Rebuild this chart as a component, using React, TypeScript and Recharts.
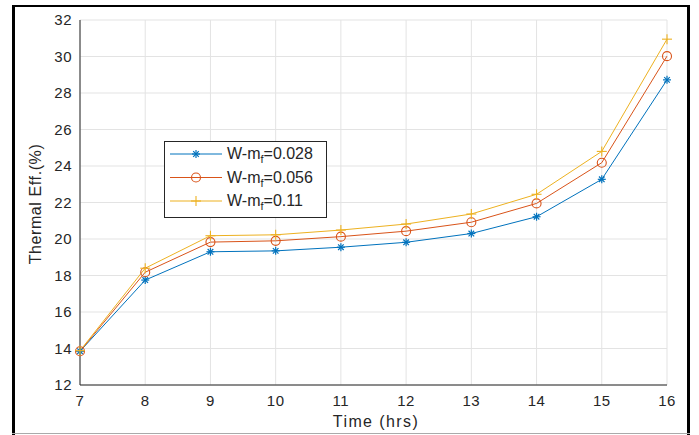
import React from 'react';
import {
  LineChart,
  Line,
  XAxis,
  YAxis,
  CartesianGrid,
  Customized,
} from 'recharts';

const hours = [7, 8, 9, 10, 11, 12, 13, 14, 15, 16];
const wmf028 = [13.85, 17.75, 19.3, 19.35, 19.55, 19.82, 20.3, 21.22, 23.27, 28.72];
const wmf056 = [13.85, 18.18, 19.83, 19.9, 20.13, 20.43, 20.92, 21.95, 24.18, 30.02];
const wmf11 = [13.88, 18.4, 20.18, 20.23, 20.49, 20.82, 21.37, 22.45, 24.8, 30.95];
const xTicks = [7, 8, 9, 10, 11, 12, 13, 14, 15, 16];
const yTicks = [12, 14, 16, 18, 20, 22, 24, 26, 28, 30, 32];
const seriesNames = ['0.028', '0.056', '0.11'];

const BLUE = '#0072BD';
const ORANGE = '#D95319';
const YELLOW = '#EDB120';
const AXIS = '#262626';
const FONT = '"Liberation Sans", Arial, sans-serif';

const data = hours.map((h, i) => ({
  hour: h,
  a: wmf028[i],
  b: wmf056[i],
  c: wmf11[i],
}));

const Star = ({ cx, cy, color }: any) => {
  if (cx == null || cy == null) return null;
  const r = 4;
  const d = r * 0.7;
  return (
    <g stroke={color} strokeWidth={1.2}>
      <line x1={cx - r} y1={cy} x2={cx + r} y2={cy} />
      <line x1={cx} y1={cy - r} x2={cx} y2={cy + r} />
      <line x1={cx - d} y1={cy - d} x2={cx + d} y2={cy + d} />
      <line x1={cx - d} y1={cy + d} x2={cx + d} y2={cy - d} />
    </g>
  );
};

const Circle = ({ cx, cy, color }: any) => {
  if (cx == null || cy == null) return null;
  return <circle cx={cx} cy={cy} r={4.5} fill="none" stroke={color} strokeWidth={1.1} />;
};

const Plus = ({ cx, cy, color }: any) => {
  if (cx == null || cy == null) return null;
  const r = 5;
  return (
    <g stroke={color} strokeWidth={1.1}>
      <line x1={cx - r} y1={cy} x2={cx + r} y2={cy} />
      <line x1={cx} y1={cy - r} x2={cx} y2={cy + r} />
    </g>
  );
};

const markers = [
  { color: BLUE, Mark: Star },
  { color: ORANGE, Mark: Circle },
  { color: YELLOW, Mark: Plus },
];

// legend box drawn on top of the lines, like the matlab one
const LegendBox = () => (
  <g transform="translate(164,141)">
    <rect x={0.5} y={0.5} width={162} height={76} fill="#fff" stroke={AXIS} strokeWidth={1} />
    {markers.map(({ color, Mark }, i) => {
      const y = 13 + i * 23.5;
      return (
        <g key={i}>
          <line x1={6} y1={y} x2={58} y2={y} stroke={color} strokeWidth={1} />
          <Mark cx={32} cy={y} color={color} />
          <text x={63} y={y + 5} fontSize={16} fontFamily={FONT} fill={AXIS}>
            W-m
            <tspan fontSize={11} dy={4}>f</tspan>
            <tspan dy={-4}>={seriesNames[i]}</tspan>
          </text>
        </g>
      );
    })}
  </g>
);

const YLabel = () => (
  <text
    x={35}
    y={204}
    transform="rotate(-90 35 204)"
    textAnchor="middle"
    dominantBaseline="central"
    fontSize={16}
    letterSpacing={0.6}
    fontFamily={FONT}
    fill={AXIS}
  >
    Thermal Eff.(%)
  </text>
);

const XLabel = () => (
  <text
    x={376}
    y={421}
    textAnchor="middle"
    dominantBaseline="central"
    fontSize={16}
    letterSpacing={1.4}
    fontFamily={FONT}
    fill={AXIS}
  >
    Time (hrs)
  </text>
);

const Frame = () => (
  <g>
    <line x1={13.5} y1={5} x2={13.5} y2={435} stroke="#000" strokeWidth={3} />
    <line x1={12} y1={6} x2={690} y2={6} stroke="#000" strokeWidth={2} />
    <line x1={688.5} y1={5} x2={688.5} y2={435} stroke="#000" strokeWidth={3} />
    <line x1={12} y1={433.5} x2={690} y2={433.5} stroke="#aaa" strokeWidth={1} />
  </g>
);

const tickFont = { fill: AXIS, fontSize: 15, fontFamily: FONT, letterSpacing: 0.5 };

export default function App() {
  return (
    <div style={{ position: 'absolute', left: 0, top: 0, background: '#fff' }}>
      <LineChart
        width={699}
        height={435}
        data={data}
        margin={{ top: 20, right: 32, bottom: 20, left: 50 }}
      >
        <Customized component={Frame} />
        <CartesianGrid stroke="#e3e3e3" strokeWidth={1} />
        <XAxis
          dataKey="hour"
          type="number"
          domain={[7, 16]}
          ticks={xTicks}
          height={30}
          stroke={AXIS}
          tickLine={false}
          tickMargin={4}
          tick={tickFont}
          label={<XLabel />}
        />
        <XAxis
          xAxisId="inner"
          dataKey="hour"
          type="number"
          domain={[7, 16]}
          ticks={xTicks}
          height={0}
          mirror
          stroke={AXIS}
          tickSize={4}
          tick={false}
        />
        <XAxis
          xAxisId="top"
          orientation="top"
          dataKey="hour"
          type="number"
          domain={[7, 16]}
          ticks={xTicks}
          height={0}
          mirror
          stroke={AXIS}
          tickSize={4}
          tick={false}
        />
        <YAxis
          type="number"
          domain={[12, 32]}
          ticks={yTicks}
          width={30}
          stroke={AXIS}
          tickLine={false}
          tick={tickFont}
          label={<YLabel />}
        />
        <YAxis
          yAxisId="inner"
          type="number"
          domain={[12, 32]}
          ticks={yTicks}
          width={0}
          mirror
          stroke={AXIS}
          tickSize={4}
          tick={false}
        />
        <YAxis
          yAxisId="right"
          orientation="right"
          type="number"
          domain={[12, 32]}
          ticks={yTicks}
          width={0}
          mirror
          stroke={AXIS}
          tickSize={4}
          tick={false}
        />
        <Line
          dataKey="a"
          stroke={BLUE}
          strokeWidth={1}
          isAnimationActive={false}
          dot={(p: any) => <Star key={`a${p.index}`} cx={p.cx} cy={p.cy} color={BLUE} />}
        />
        <Line
          dataKey="b"
          stroke={ORANGE}
          strokeWidth={1}
          isAnimationActive={false}
          dot={(p: any) => <Circle key={`b${p.index}`} cx={p.cx} cy={p.cy} color={ORANGE} />}
        />
        <Line
          dataKey="c"
          stroke={YELLOW}
          strokeWidth={1}
          isAnimationActive={false}
          dot={(p: any) => <Plus key={`c${p.index}`} cx={p.cx} cy={p.cy} color={YELLOW} />}
        />
        <Customized component={LegendBox} />
      </LineChart>
    </div>
  );
}
